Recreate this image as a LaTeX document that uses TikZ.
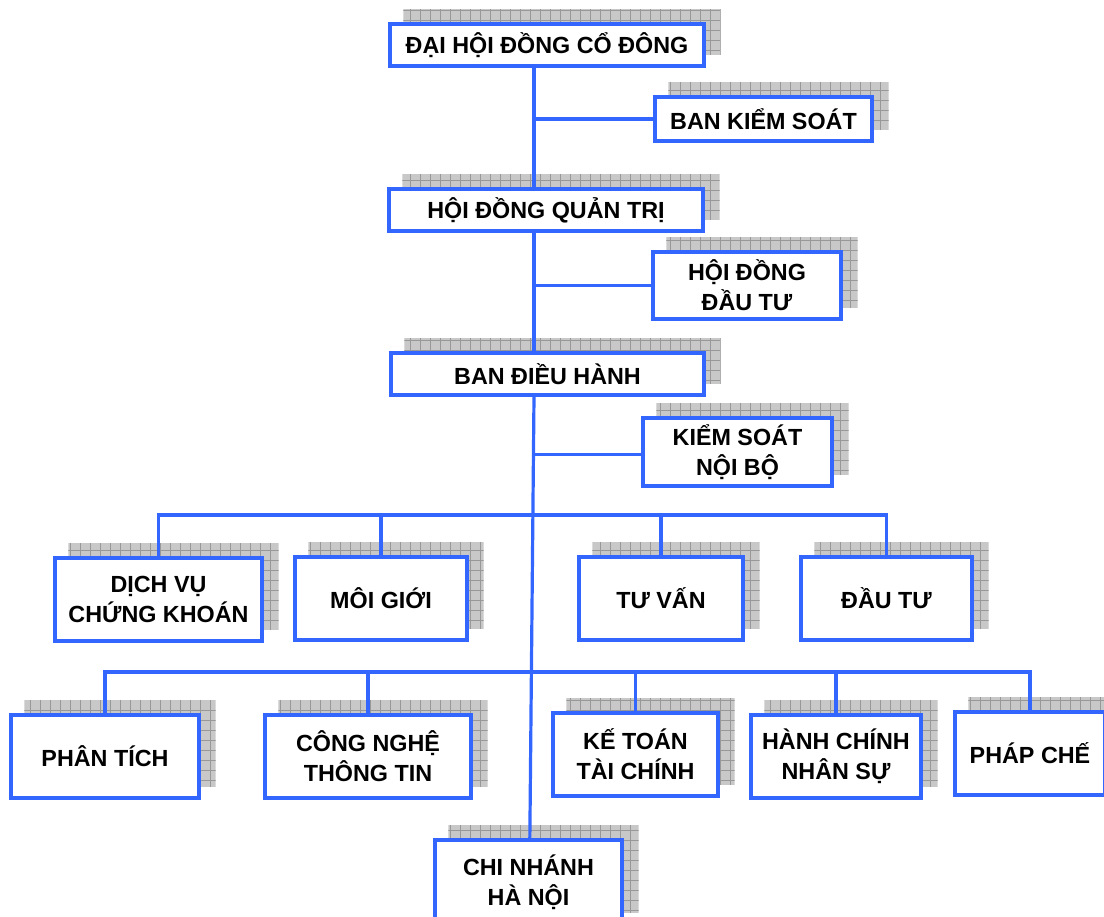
\documentclass[tikz,border=0pt]{standalone}
\usepackage{fontspec}
\setmainfont{Liberation Sans}
\usetikzlibrary{calc,backgrounds}
\definecolor{orgblue}{HTML}{3366FF}
\definecolor{shadefill}{HTML}{C8C8C8}
\definecolor{shadeline}{HTML}{989898}

\begin{document}
\begin{tikzpicture}[
  x=0.75pt, y=-0.75pt,
  every node/.style={font=\fontsize{17.5}{22.5}\selectfont\bfseries},
  orgbox/.style={draw=orgblue, line width=2.4pt, fill=white, align=center, inner sep=2pt},
  rowbox/.style={orgbox, minimum height=62.25pt},
  link/.style={draw=orgblue, line width=2.4pt}
]
  \useasboundingbox (0,0) rectangle (1104,917);
  \clip (0,0) rectangle (1104,917);

  % Top of the tree
  \node[orgbox, minimum width=235.5pt, minimum height=31.5pt] (dhdcd) at (547,45) {ĐẠI HỘI ĐỒNG CỔ ĐÔNG};
  \node[orgbox, minimum width=162.75pt, minimum height=33pt] (bks) at (763.5,119) {BAN KIỂM SOÁT};
  \node[orgbox, minimum width=235.5pt, minimum height=31.5pt] (hdqt) at (546,210) {HỘI ĐỒNG QUẢN TRỊ};
  \node[orgbox, minimum width=141pt, minimum height=50.25pt] (hddt) at (747,285.5) {HỘI ĐỒNG\\ĐẦU TƯ};
  \node[orgbox, minimum width=234.75pt, minimum height=31.5pt] (bdh) at (547.5,374) {BAN ĐIỀU HÀNH};
  \node[orgbox, minimum width=141.75pt, minimum height=51pt] (ksnb) at (737.5,452) {KIỂM SOÁT\\NỘI BỘ};

  % First row of departments
  \node[rowbox, minimum width=155.25pt] (dvck) at (158.5,599.5) {DỊCH VỤ\\CHỨNG KHOÁN};
  \node[rowbox, minimum width=129pt] (mg) at (381,598.5) {MÔI GIỚI};
  \node[rowbox, minimum width=123pt] (tv) at (661,598.5) {TƯ VẤN};
  \node[rowbox, minimum width=128.25pt] (dt) at (886.5,598.5) {ĐẦU TƯ};

  % Second row of departments
  \node[rowbox, minimum width=141pt] (pt) at (105,756.5) {PHÂN TÍCH};
  \node[rowbox, minimum width=154.5pt] (cntt) at (368,756.5) {CÔNG NGHỆ\\THÔNG TIN};
  \node[rowbox, minimum width=123.75pt] (kttc) at (635.5,754.5) {KẾ TOÁN\\TÀI CHÍNH};
  \node[rowbox, minimum width=127.5pt] (hcns) at (836,756.5) {HÀNH CHÍNH\\NHÂN SỰ};
  \node[rowbox, minimum width=112.5pt] (pc) at (1030,753.5) {PHÁP CHẾ};

  % Branch office
  \node[orgbox, minimum width=140.25pt, minimum height=63pt] (cnhn) at (528.5,882) {CHI NHÁNH\\HÀ NỘI};

  % Grid shadows behind the boxes
  \begin{scope}[on background layer]
    \foreach \n in {dhdcd,bks,hdqt,hddt,bdh,ksnb,dvck,mg,tv,dt,pt,cntt,kttc,hcns,pc,cnhn} {
      \begin{scope}
        \clip ($(\n.south west)+(15,-13)$) rectangle ($(\n.north east)+(15,-13)$);
        \fill[shadefill] ($(\n.south west)+(15,-13)$) rectangle ($(\n.north east)+(15,-13)$);
        \draw[shadeline, line width=0.5pt, step=7.5pt] ($(\n.south west)+(15,-13)$) grid ($(\n.north east)+(15,-13)$);
      \end{scope}
    }
  \end{scope}

  % Spine and side branches
  \coordinate (spine) at (534,0);
  \coordinate (bar1) at (534,515);
  \coordinate (bar2) at (534,672);
  \draw[link] (dhdcd.south -| spine) -- (hdqt.north -| spine);
  \draw[link] (bks.west) -- (bks.west -| spine);
  \draw[link] (hdqt.south -| spine) -- (bdh.north -| spine);
  \draw[link] (hddt.west) -- (hddt.west -| spine);
  \draw[link] (bdh.south -| spine) -- ([xshift=1pt]cnhn.north);
  \draw[link] ([yshift=-2pt]ksnb.west) -- ([yshift=-2pt]ksnb.west -| spine);

  % Department bars
  \draw[link] (dvck.north) |- (dt.north |- bar1) -- (dt.north);
  \foreach \n in {mg,tv} \draw[link] (\n.north) -- (\n.north |- bar1);
  \draw[link] (pt.north) |- (pc.north |- bar2) -- (pc.north);
  \foreach \n in {cntt,kttc,hcns} \draw[link] (\n.north) -- (\n.north |- bar2);
\end{tikzpicture}
\end{document}
